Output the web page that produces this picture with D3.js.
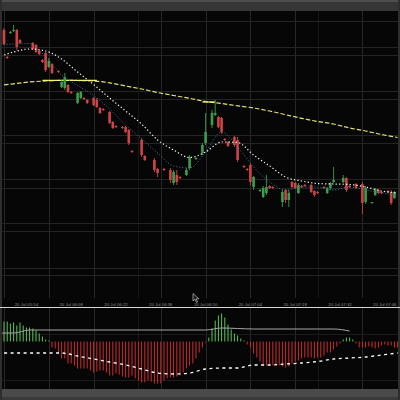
<!DOCTYPE html>
<html>
<head>
<meta charset="utf-8">
<script src="https://cdn.jsdelivr.net/npm/d3@7"></script>
<style>
  html, body { margin: 0; padding: 0; background: #060606; }
  svg { display: block; }
</style>
</head>
<body>
<svg width="400" height="400"></svg>
<script>
// one candle per minute, minute 0 = 20 Jul 05:47
// [minute, open, high, low, close]
var candles = [
  [-1, 1.12260, 1.12272, 1.12259, 1.12270],
  [0, 1.12270, 1.12272, 1.12255, 1.12256],
  [1, 1.12243, 1.12244, 1.12241, 1.12242],
  [2, 1.12267, 1.12269, 1.12266, 1.12268],
  [3, 1.12269, 1.12275, 1.12268, 1.12270],
  [4, 1.12270, 1.12271, 1.12250, 1.12253],
  [5, 1.12260, 1.12261, 1.12256, 1.12257],
  [9, 1.12257, 1.12258, 1.12250, 1.12251],
  [10, 1.12255, 1.12256, 1.12247, 1.12248],
  [11, 1.12249, 1.12250, 1.12245, 1.12246],
  [12, 1.12240, 1.12241, 1.12237, 1.12238],
  [13, 1.12247, 1.12248, 1.12228, 1.12230],
  [14, 1.12233, 1.12242, 1.12232, 1.12239],
  [15, 1.12236, 1.12237, 1.12226, 1.12227],
  [17, 1.12229, 1.12230, 1.12227, 1.12228],
  [18, 1.12213, 1.12220, 1.12212, 1.12218],
  [19, 1.12212, 1.12227, 1.12210, 1.12223],
  [20, 1.12215, 1.12216, 1.12207, 1.12208],
  [21, 1.12208, 1.12209, 1.12206, 1.12207],
  [23, 1.12197, 1.12208, 1.12196, 1.12207],
  [24, 1.12202, 1.12209, 1.12201, 1.12208],
  [25, 1.12202, 1.12203, 1.12200, 1.12201],
  [26, 1.12200, 1.12201, 1.12196, 1.12197],
  [28, 1.12202, 1.12203, 1.12194, 1.12195],
  [29, 1.12200, 1.12202, 1.12192, 1.12193],
  [30, 1.12192, 1.12193, 1.12186, 1.12187],
  [31, 1.12191, 1.12192, 1.12189, 1.12190],
  [33, 1.12188, 1.12189, 1.12176, 1.12177],
  [34, 1.12178, 1.12179, 1.12171, 1.12172],
  [35, 1.12174, 1.12175, 1.12172, 1.12173],
  [37, 1.12173, 1.12174, 1.12171, 1.12172],
  [38, 1.12173, 1.12174, 1.12167, 1.12168],
  [39, 1.12170, 1.12171, 1.12155, 1.12157],
  [40, 1.12149, 1.12150, 1.12147, 1.12148],
  [43, 1.12160, 1.12162, 1.12143, 1.12145],
  [44, 1.12144, 1.12145, 1.12139, 1.12140],
  [47, 1.12140, 1.12142, 1.12128, 1.12130],
  [48, 1.12131, 1.12132, 1.12123, 1.12127],
  [50, 1.12131, 1.12132, 1.12129, 1.12130],
  [52, 1.12130, 1.12132, 1.12117, 1.12120],
  [53, 1.12117, 1.12130, 1.12115, 1.12128],
  [54, 1.12125, 1.12130, 1.12115, 1.12118],
  [55, 1.12123, 1.12124, 1.12121, 1.12122],
  [57, 1.12125, 1.12132, 1.12124, 1.12130],
  [58, 1.12132, 1.12145, 1.12130, 1.12143],
  [60, 1.12141, 1.12143, 1.12140, 1.12142],
  [62, 1.12147, 1.12157, 1.12145, 1.12155],
  [63, 1.12157, 1.12187, 1.12155, 1.12168],
  [65, 1.12175, 1.12190, 1.12172, 1.12187],
  [66, 1.12185, 1.12200, 1.12184, 1.12187],
  [67, 1.12183, 1.12184, 1.12172, 1.12173],
  [68, 1.12182, 1.12183, 1.12166, 1.12168],
  [69, 1.12161, 1.12162, 1.12159, 1.12160],
  [70, 1.12158, 1.12159, 1.12153, 1.12154],
  [72, 1.12163, 1.12164, 1.12153, 1.12155],
  [73, 1.12160, 1.12163, 1.12138, 1.12140],
  [75, 1.12134, 1.12135, 1.12132, 1.12133],
  [76, 1.12131, 1.12132, 1.12129, 1.12130],
  [77, 1.12135, 1.12137, 1.12115, 1.12118],
  [78, 1.12113, 1.12124, 1.12110, 1.12123],
  [80, 1.12109, 1.12111, 1.12108, 1.12110],
  [81, 1.12103, 1.12114, 1.12102, 1.12112],
  [82, 1.12107, 1.12125, 1.12105, 1.12113],
  [83, 1.12114, 1.12115, 1.12111, 1.12112],
  [84, 1.12113, 1.12114, 1.12111, 1.12112],
  [87, 1.12098, 1.12110, 1.12093, 1.12108],
  [88, 1.12110, 1.12111, 1.12097, 1.12100],
  [89, 1.12100, 1.12110, 1.12093, 1.12107],
  [90, 1.12118, 1.12119, 1.12112, 1.12113],
  [91, 1.12117, 1.12118, 1.12111, 1.12112],
  [92, 1.12107, 1.12117, 1.12106, 1.12115],
  [93, 1.12114, 1.12115, 1.12112, 1.12113],
  [94, 1.12115, 1.12116, 1.12113, 1.12114],
  [96, 1.12115, 1.12116, 1.12107, 1.12108],
  [97, 1.12109, 1.12110, 1.12103, 1.12105],
  [98, 1.12108, 1.12109, 1.12106, 1.12107],
  [100, 1.12113, 1.12114, 1.12111, 1.12112],
  [101, 1.12107, 1.12113, 1.12106, 1.12112],
  [102, 1.12112, 1.12118, 1.12110, 1.12117],
  [103, 1.12118, 1.12133, 1.12117, 1.12120],
  [106, 1.12118, 1.12125, 1.12117, 1.12122],
  [107, 1.12122, 1.12123, 1.12108, 1.12110],
  [108, 1.12114, 1.12115, 1.12112, 1.12113],
  [110, 1.12116, 1.12117, 1.12111, 1.12112],
  [112, 1.12116, 1.12118, 1.12086, 1.12097],
  [113, 1.12098, 1.12114, 1.12096, 1.12112],
  [115, 1.12097, 1.12098, 1.12096, 1.12098],
  [116, 1.12105, 1.12112, 1.12104, 1.12111],
  [117, 1.12110, 1.12111, 1.12106, 1.12107],
  [118, 1.12108, 1.12109, 1.12106, 1.12107],
  [120, 1.12109, 1.12110, 1.12107, 1.12108],
  [121, 1.12108, 1.12110, 1.12095, 1.12097],
  [122, 1.12102, 1.12109, 1.12101, 1.12108]
];

// moving averages, read every 5 minutes starting at minute -2
var maStart = -2, maStep = 5;
var maSlow = [1.122145, 1.122162, 1.12218, 1.12219, 1.122196, 1.122195, 1.12219, 1.122172, 1.12214, 1.12211,
  1.122075, 1.122045, 1.122017, 1.121985, 1.121965, 1.121942, 1.12192, 1.12189, 1.121853, 1.121817,
  1.121785, 1.12176, 1.12172, 1.12169, 1.121655, 1.121625];
var maMid = [1.122425, 1.12248, 1.12251, 1.12249, 1.12241, 1.12228, 1.122155, 1.12202, 1.12189, 1.12176,
  1.1216, 1.1215, 1.121425, 1.12148, 1.12158, 1.121575, 1.12145, 1.12134, 1.12123, 1.12119,
  1.121165, 1.12116, 1.121155, 1.12113, 1.12109, 1.12107];
var maFast = [1.12255, 1.12256, 1.122565, 1.12243, 1.12225, 1.122145, 1.122045, 1.12191, 1.12175, 1.12161,
  1.12147, 1.12134, 1.12132, 1.12148, 1.12168, 1.12153, 1.12133, 1.12118, 1.1211, 1.12113,
  1.12113, 1.1211, 1.12113, 1.1211, 1.12107, 1.12105];
// short highlighted levels: [from minute, to minute, price]
var levels = [[12, 29, 1.122197], [62, 66, 1.12198]];

// oscillator panel, in points (0.00001)
var histStart = -1;
var hist = [18, 20, 20, 18, 19, 16, 19, 16, 14, 14, 13, 11, 8, 5, 2,
  1, -6, -7, -11, -17, -17, -22, -22, -24, -27, -27, -27, -27, -29, -31, -30, -29,
  -29, -31, -34, -34, -32, -33, -35, -36, -36, -34, -37, -39, -41, -41, -39, -40, -42, -42, -42, -39,
  -37, -36, -36, -35, -34, -31, -27, -24, -22, -17, -11, -6, -1, 4, 13, 21, 26, 28, 24, 17,
  12, 8, 6, 3, 1, -3, -6, -12, -16, -20, -23, -24, -24, -24, -24, -24, -25, -26, -25, -22,
  -20, -19, -17, -16, -16, -16, -17, -16, -16, -14, -11, -11, -8, -5, -2, 2, 4, 4, 2, -2,
  -6, -6, -6, -5, -6, -7, -6, -4, -3, -4, -4, -6, -6];
var oscLine = [-11.5, -11.5, -11.5, -11.5, -11.5, -14.5, -17.5, -20.5, -23.5, -27.5, -31.5, -32.5, -31.5,
  -27.5, -26.5, -26.5, -23.5, -23.5, -22.5, -21.5, -20, -17.5, -16.5, -15.5, -13.5, -11.5];
var sigLine = [8.5, 8.5, 11.5, 11.5, 11.5, 11.5, 11.5, 11.5, 11.5, 11.5, 11.5, 11.5, 11.5, 11.5,
  13.5, 13, 12.5, 12.5, 12.5, 12.5, 12.5, 12.5, 10.5];

// axis
var tickMinutes = [7, 21, 35, 49, 63, 77, 91, 105, 119];
var tickLabels = ['20 Jul 05:54', '20 Jul 06:08', '20 Jul 06:22', '20 Jul 06:36', '20 Jul 06:50',
  '20 Jul 07:04', '20 Jul 07:18', '20 Jul 07:32', '20 Jul 07:46'];
var gridMinutes = [0, 14, 28, 49, 63, 77, 91, 112];
var gridMinutesDim = [42, 98];
var gridPrices = [1.12279, 1.12253, 1.12245, 1.12209, 1.12201, 1.12165, 1.12157,
  1.12121, 1.12112, 1.12077, 1.12069, 1.12032, 1.12025];
var gridOsc = [8, -38];

var svg = d3.select('svg');
var t0 = new Date(2020, 6, 20, 5, 47);
function minute(m) { return new Date(t0.getTime() + m * 60000); }

var x = d3.scaleTime().domain([minute(0), minute(122.5)]).range([4, 396]);
var y = d3.scaleLinear().domain([1.12000, 1.12300]).range([300, 0]);
var yOsc = d3.scaleLinear().domain([-47.5, 33.5]).range([389, 308]);
function crisp(v) { return Math.round(v) + 0.5; }

var defs = svg.append('defs');
defs.append('clipPath').attr('id', 'clipMain')
  .append('rect').attr('x', 2).attr('y', 11).attr('width', 396).attr('height', 287);
defs.append('clipPath').attr('id', 'clipOsc')
  .append('rect').attr('x', 2).attr('y', 308).attr('width', 396).attr('height', 81);

// frame
svg.append('rect').attr('width', 400).attr('height', 400).attr('fill', '#060606');
svg.append('rect').attr('width', 400).attr('height', 11).attr('fill', '#363636');
svg.append('rect').attr('width', 400).attr('height', 2).attr('fill', '#4e4e4e');
svg.append('rect').attr('y', 389).attr('width', 400).attr('height', 11).attr('fill', '#4a4a4a');
svg.append('rect').attr('y', 397).attr('width', 400).attr('height', 3).attr('fill', '#3a3a3a');
svg.append('rect').attr('width', 2).attr('height', 400).attr('fill', '#2e2e2e');
svg.append('rect').attr('x', 398).attr('width', 2).attr('height', 400).attr('fill', '#2e2e2e');

// grid
var grid = svg.append('g');
[[11, 298], [308, 389]].forEach(function (band) {
  grid.selectAll(null).data(gridMinutes).enter().append('line')
    .attr('x1', function (d) { return crisp(x(minute(d))); })
    .attr('x2', function (d) { return crisp(x(minute(d))); })
    .attr('y1', band[0]).attr('y2', band[1])
    .attr('stroke', '#272727');
  grid.selectAll(null).data(gridMinutesDim).enter().append('line')
    .attr('x1', function (d) { return crisp(x(minute(d))); })
    .attr('x2', function (d) { return crisp(x(minute(d))); })
    .attr('y1', band[0]).attr('y2', band[1])
    .attr('stroke', '#161616');
});
grid.selectAll(null).data(gridPrices).enter().append('line')
  .attr('x1', 2).attr('x2', 398)
  .attr('y1', function (d) { return crisp(y(d)); })
  .attr('y2', function (d) { return crisp(y(d)); })
  .attr('stroke', '#242424');
grid.selectAll(null).data(gridOsc).enter().append('line')
  .attr('x1', 2).attr('x2', 398)
  .attr('y1', function (d) { return crisp(yOsc(d)); })
  .attr('y2', function (d) { return crisp(yOsc(d)); })
  .attr('stroke', '#1c1c1c');

// main panel
var main = svg.append('g').attr('clip-path', 'url(#clipMain)');

function maLine(values, scale) {
  return d3.line()
    .x(function (d, i) { return x(minute(maStart + i * maStep)); })
    .y(function (d) { return scale(d); })
    .curve(d3.curveMonotoneX)(values);
}

main.append('path').attr('d', maLine(maSlow, y))
  .attr('fill', 'none').attr('stroke', '#e2e26c').attr('stroke-width', 1.2)
  .attr('stroke-dasharray', '4.5,2');

main.selectAll('line.level').data(levels).enter().append('line')
  .attr('x1', function (d) { return x(minute(d[0])); })
  .attr('x2', function (d) { return x(minute(d[1])); })
  .attr('y1', function (d) { return y(d[2]); })
  .attr('y2', function (d) { return y(d[2]); })
  .attr('stroke', '#f2f27a').attr('stroke-width', 1.3);

function candleColor(d) { return d[4] >= d[1] ? '#3c9e4a' : '#cf4444'; }

main.selectAll('line.wick').data(candles).enter().append('line')
  .attr('x1', function (d) { return x(minute(d[0])); })
  .attr('x2', function (d) { return x(minute(d[0])); })
  .attr('y1', function (d) { return y(d[2]); })
  .attr('y2', function (d) { return y(d[3]); })
  .attr('stroke', candleColor).attr('stroke-width', 0.9);

main.selectAll('rect.body').data(candles).enter().append('rect')
  .attr('x', function (d) { return x(minute(d[0])) - 1.3; })
  .attr('width', 2.6)
  .attr('y', function (d) { return Math.min(y(d[1]), y(d[4])); })
  .attr('height', function (d) { return Math.max(1, Math.abs(y(d[1]) - y(d[4]))); })
  .attr('fill', candleColor);

main.append('path').attr('d', maLine(maFast, y))
  .attr('fill', 'none').attr('stroke', '#3f78a8').attr('stroke-width', 1)
  .attr('stroke-dasharray', '1,2');

main.append('path').attr('d', maLine(maMid, y))
  .attr('fill', 'none').attr('stroke', '#f2f2f2').attr('stroke-width', 1.2)
  .attr('stroke-dasharray', '1.3,2.2');

// time labels
svg.append('g').selectAll('text').data(tickMinutes).enter().append('text')
  .attr('x', function (d) { return x(minute(d)); })
  .attr('y', 305.5)
  .attr('text-anchor', 'middle')
  .attr('font-family', 'Liberation Sans, Arial, sans-serif')
  .attr('font-size', 4.3)
  .attr('fill', '#8e8e8e')
  .text(function (d, i) { return tickLabels[i]; });

// pointer glyph over the 06:50 label
svg.append('path')
  .attr('d', 'M193,293.5 L193,301 L195,299.2 L196.4,302.4 L197.6,301.9 L196.2,298.8 L198.8,298.8 Z')
  .attr('fill', '#1a1a1a').attr('stroke', '#bdbdbd').attr('stroke-width', 0.7);

// separator
svg.append('line').attr('x1', 0).attr('x2', 400).attr('y1', 307.5).attr('y2', 307.5)
  .attr('stroke', '#d6d6d6').attr('stroke-width', 1.2);

// oscillator panel
var osc = svg.append('g').attr('clip-path', 'url(#clipOsc)');

osc.selectAll('rect.bar').data(hist).enter().append('rect')
  .attr('x', function (d, i) { return x(minute(histStart + i)) - 0.5; })
  .attr('width', 1)
  .attr('y', function (d) { return Math.min(yOsc(d), yOsc(0)); })
  .attr('height', function (d) { return Math.abs(yOsc(d) - yOsc(0)); })
  .attr('fill', function (d) { return d >= 0 ? '#58c858' : '#d02c2c'; });

osc.append('path').attr('d', maLine(sigLine, yOsc))
  .attr('fill', 'none').attr('stroke', '#a8a8a8').attr('stroke-width', 1);

osc.append('path').attr('d', maLine(oscLine, yOsc))
  .attr('fill', 'none').attr('stroke', '#ffffff').attr('stroke-width', 1.3)
  .attr('stroke-dasharray', '3,3.5');
</script>
</body>
</html>
